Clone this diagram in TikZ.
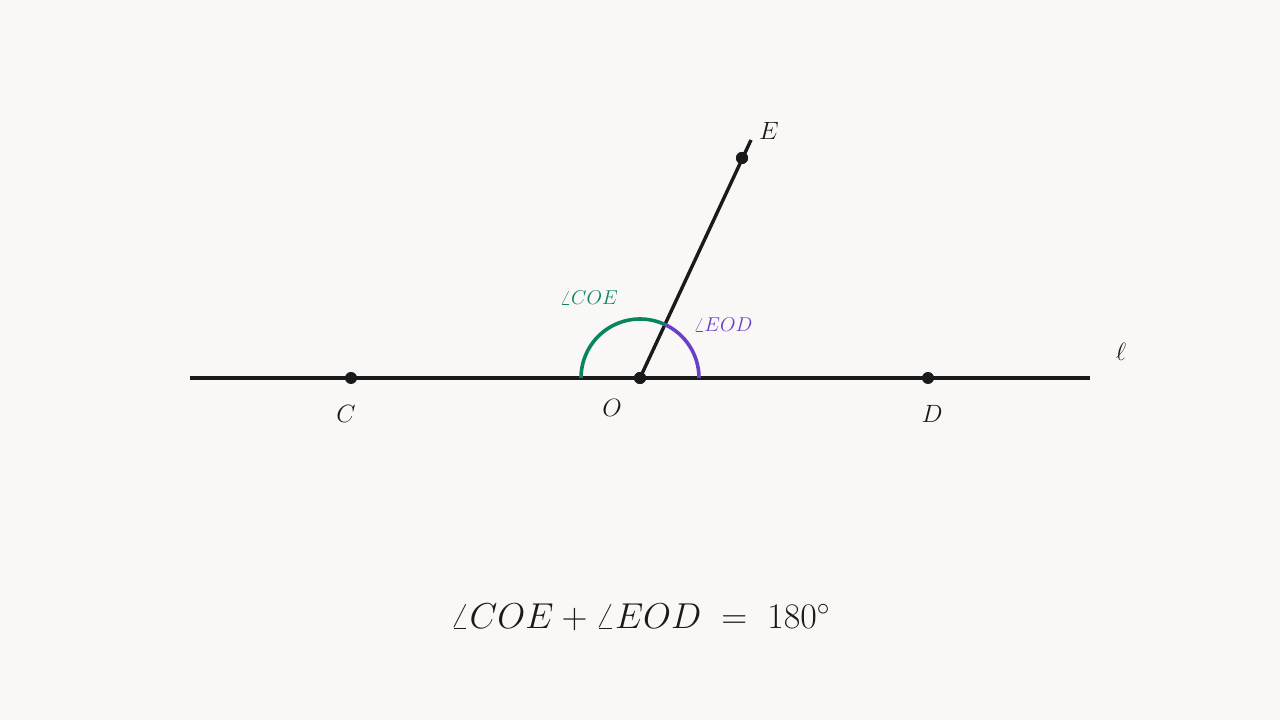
\RequirePackage{fix-cm}
\documentclass[tikz,border=0pt]{standalone}
\usepackage{amsmath}
\definecolor{bgc}{HTML}{F9F8F6}
\definecolor{ink}{HTML}{1A1A1A}
\definecolor{grn}{HTML}{0A8560}
\definecolor{pur}{HTML}{6A40C8}
\begin{document}
\begin{tikzpicture}[x=1pt,y=1pt,
  ln/.style={draw=ink,line width=3.4pt},
  dot/.style={circle,fill=ink,inner sep=0pt,minimum size=12pt},
  ptlab/.style={text=ink,font=\fontsize{25}{30}\selectfont},
  anglab/.style={font=\fontsize{20}{24}\selectfont},
  arcst/.style={line width=3.6pt}]
\fill[bgc] (0,0) rectangle (1280,720);
\useasboundingbox (0,0) rectangle (1280,720);
\coordinate (L1) at (190,342);
\coordinate (L2) at (1090,342);
\coordinate (Eend) at (751,580);
\node[dot] (O) at (640,342) {};
\node[dot] (C) at (351,342) {};
\node[dot] (D) at (928,342) {};
\node[dot] (E) at (742,562) {};
\draw[ln] (L1) -- (L2);
\draw[ln] (O.center) -- (Eend);
\draw[grn,arcst] (581,342) arc[start angle=180,end angle=65.1,radius=59];
\draw[pur,arcst] (699,342) arc[start angle=0,end angle=65.1,radius=59];
\node[dot] at (O.center) {};
\node[dot] at (E.center) {};
\node[ptlab] (lE) at (769,589) {$E$};
\node[ptlab] (lC) at (346,306) {$C$};
\node[ptlab] (lO) at (612,312) {$O$};
\node[ptlab] (lD) at (932,306) {$D$};
\node[ptlab] (ll) at (1121,368) {$\ell$};
\node[anglab,text=grn] (aC) at (589,422) {$\angle COE$};
\node[anglab,text=pur] (aE) at (723,395) {$\angle EOD$};
\node[text=ink,font=\fontsize{36}{43}\selectfont] (eq) at (640,103) {$\angle COE+\angle EOD\;=\;180^\circ$};
\end{tikzpicture}
\end{document}
